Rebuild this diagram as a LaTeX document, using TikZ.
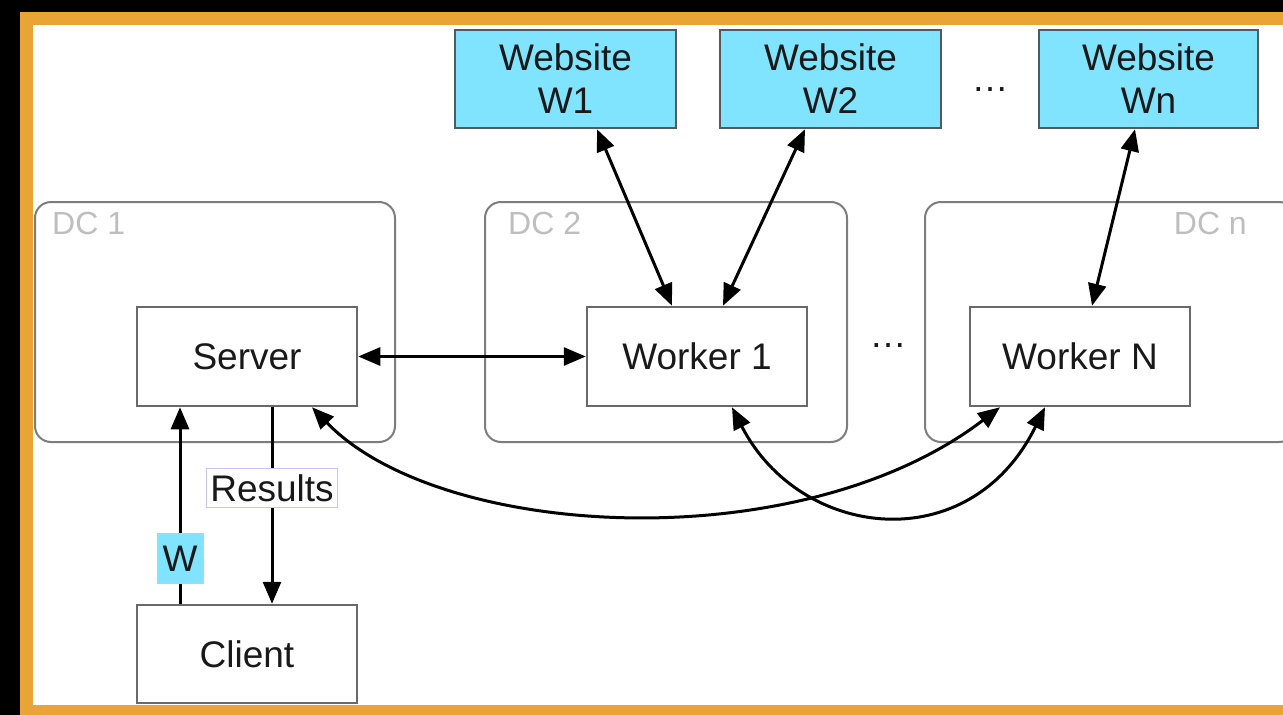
\documentclass[tikz,border=0pt]{standalone}
\usepackage{fontspec}
\setmainfont{Liberation Sans}
\usetikzlibrary{arrows.meta}
\definecolor{frameorange}{RGB}{232,164,52}
\definecolor{webcyan}{RGB}{128,228,255}
\definecolor{boxgray}{RGB}{105,105,105}
\definecolor{webborder}{RGB}{80,90,95}
\definecolor{dcgray}{RGB}{125,125,125}
\definecolor{labelgray}{RGB}{190,190,190}
\definecolor{lavender}{RGB}{205,195,240}
\definecolor{txt}{RGB}{25,25,25}
\begin{document}
\begin{tikzpicture}[x=1pt,y=-1pt,
  every node/.style={font=\fontsize{37}{43}\selectfont, text=txt},
  comp/.style={draw=boxgray, line width=2.5pt, fill=white, minimum width=220pt, minimum height=99pt, inner sep=0pt},
  web/.style={draw=webborder, line width=2.5pt, fill=webcyan, align=center, minimum width=221pt, minimum height=98pt, inner sep=0pt},
  dc/.style={draw=dcgray, line width=2pt, rounded corners=16pt, minimum height=240pt, inner sep=0pt},
  dclabel/.style={font=\fontsize{32}{36}\selectfont, text=labelgray, inner sep=0pt},
  tip/.style={Triangle[length=22pt,width=18pt]},
  link/.style={line width=3pt, draw=black, {Triangle[length=22pt,width=18pt]}-{Triangle[length=22pt,width=18pt]}},
  one/.style={line width=3pt, draw=black, -{Triangle[length=22pt,width=18pt]}},
  ellip/.style={anchor=base, inner sep=0pt},
]
\useasboundingbox (0,0) rectangle (1283,715);
% frame
\fill[black] (0,0) rectangle (1283,715);
\fill[frameorange] (20,12) rectangle (1283,715);
\fill[white] (33,25) rectangle (1283,705);

% data centre boxes
\node[dc, minimum width=360pt] (dc1) at (215,322) {};
\node[dc, minimum width=362pt] (dc2) at (666,322) {};
\node[dc, minimum width=370pt] (dcn) at (1110,322) {};
\node[dclabel, anchor=base west] (dc1l) at (52,234) {DC 1};
\node[dclabel, anchor=base west] (dc2l) at (508,234) {DC 2};
\node[dclabel, anchor=base east] (dcnl) at (1247,234) {DC n};

% websites
\node[web] (w1) at (565.5,79) {Website\\W1};
\node[web] (w2) at (830.5,79) {Website\\W2};
\node[web, minimum width=219pt] (wn) at (1148.5,79) {Website\\Wn};
\node[ellip] (dotsw) at (990,91) {…};

% components
\node[comp] (server) at (247,356.5) {Server};
\node[comp] (worker1) at (697,356.5) {Worker 1};
\node[comp] (workern) at (1080,356.5) {Worker N};
\node[ellip] (dotsk) at (888,347) {…};
\node[comp, minimum height=98pt] (client) at (247,654) {Client};

% connectors
\draw[link] (server.east) -- (worker1.west);
\draw[link] ([xshift=31.5pt]w1.south) -- ([xshift=-25pt]worker1.north);
\draw[link] ([xshift=-25.5pt]w2.south) -- ([xshift=26pt]worker1.north);
\draw[link] ([xshift=-13.5pt]wn.south) -- ([xshift=12pt]workern.north);
\draw[link] ([xshift=65pt]server.south) .. controls (440,540) and (800,560) .. ([xshift=-80pt]workern.south);
\draw[link] ([xshift=35pt]worker1.south) .. controls (800,540) and (970,560) .. ([xshift=-35pt]workern.south);

\draw[one] ([xshift=-67pt]client.north) -- ([xshift=-67pt]server.south)
  node[pos=0.23, fill=webcyan, draw=lavender, line width=1pt, inner sep=3pt, minimum width=46pt, minimum height=50pt] (wlabel) {W};
\draw[one] ([xshift=25pt]server.south) -- ([xshift=25pt]client.north)
  node[pos=0.41, fill=white, draw=lavender, line width=1pt, inner xsep=4pt, inner ysep=6pt] (reslabel) {Results};
\end{tikzpicture}
\end{document}
